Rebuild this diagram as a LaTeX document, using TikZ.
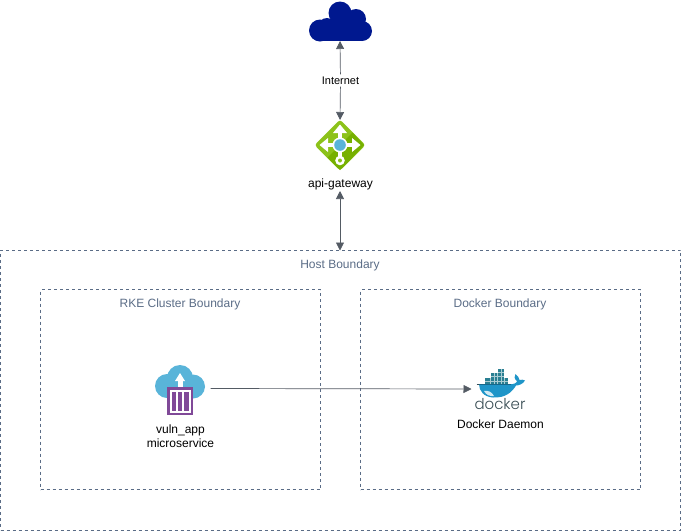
\documentclass[tikz,border=0pt]{standalone}
\usepackage{fontspec}
\setmainfont{Liberation Sans}
\newfontfamily\dockerfont{Poppins Light}
\usetikzlibrary{arrows.meta}
\definecolor{edgegrey}{HTML}{545B64}
\definecolor{boundtext}{HTML}{5A6C86}
\definecolor{boundline}{HTML}{5A6C86}
\definecolor{cloudblue}{HTML}{00188F}
\definecolor{gwgreen}{HTML}{8CC21A}
\definecolor{gwdark}{HTML}{76B000}
\definecolor{gwblue}{HTML}{59B4D9}
\definecolor{svcblue}{HTML}{59B4D9}
\definecolor{svcpurple}{HTML}{804998}
\definecolor{whaleblue}{HTML}{1F95C8}
\definecolor{whaletop}{HTML}{17678A}
\definecolor{boxteal}{HTML}{2A7F92}
\definecolor{dockergrey}{HTML}{394D54}
\tikzset{
  boundary/.style={draw=boundline,dash pattern=on 3pt off 3pt,line width=0.7pt,fill=none,outer sep=0pt,inner sep=0pt,anchor=north west},
  boundlabel/.style={text=boundtext,font=\fontsize{12}{14}\selectfont,inner sep=0pt,anchor=center},
  caption/.style={text=black,font=\fontsize{12}{14}\selectfont,inner sep=0pt,align=center},
  link/.style={draw=edgegrey,line width=0.7pt},
  both/.style={link,{Triangle[length=8pt,width=8pt]}-{Triangle[length=8pt,width=8pt]}},
  ahead/.style={link,-{Triangle[length=8pt,width=8pt]}},
}
\begin{document}
\begin{tikzpicture}[x=1pt,y=-1pt]
\useasboundingbox (0,0) rectangle (681,531);
% boundaries
\node[boundary,minimum width=680pt,minimum height=280pt] (host) at (0.5,250.2) {};
\node[boundary,minimum width=280pt,minimum height=200pt] (rke) at (40.5,289.5) {};
\node[boundary,minimum width=280pt,minimum height=200pt] (dbox) at (360.5,289.5) {};
\node[boundlabel] (hostl) at (340,265.2) {Host Boundary};
\node[boundlabel] (rkel) at (180,304.2) {RKE Cluster Boundary};
\node[boundlabel] (dboxl) at (500,304.2) {Docker Boundary};
% internet cloud
\fill[cloudblue] (320,30.5) circle (11);
\fill[cloudblue] (327,27) circle (9);
\fill[cloudblue] (340,13) circle (11.5);
\fill[cloudblue] (356,19) circle (10);
\fill[cloudblue] (362,31) circle (10);
\fill[cloudblue] (320,25) rectangle (362,41);
\fill[cloudblue] (331,14) rectangle (356,30);
\coordinate (cloudb) at (340,41);
% gateway
\fill[gwgreen,rounded corners=3pt] (340,119.5) -- (365.5,145) -- (340,170.5) -- (314.5,145) -- cycle;
\fill[gwdark] (340,145) -- (352.5,157.5) -- (340,170) -- (327.5,157.5) -- cycle;
\fill[gwdark] (340,145) -- (352.5,132.5) -- (364,145) -- (352.5,157.5) -- cycle;
\fill[white] (338.2,132) rectangle (341.8,158);
\fill[white] (327,143.2) rectangle (353,146.8);
\fill[white] (340,124.5) -- (347,133) -- (333,133) -- cycle;
\fill[white] (319.5,145) -- (328,138) -- (328,152) -- cycle;
\fill[white] (360.5,145) -- (352,138) -- (352,152) -- cycle;
\fill[white] (340,160.5) circle (4.8);
\fill[gwgreen] (340,160.5) circle (2);
\fill[white] (340,145) circle (7.5);
\fill[gwblue] (340,145) circle (5.8);
\coordinate (gwt) at (340,120);
\node[caption] (gwl) at (340.5,184.5) {api-gateway};
% internet label and links
\node[caption,fill=white,inner sep=2pt,font=\fontsize{11}{13}\selectfont] (inet) at (340.5,80.5) {Internet};
\draw[link,{Triangle[length=8pt,width=8pt]}-] (cloudb) -- (inet);
\draw[link,-{Triangle[length=8pt,width=8pt]}] (inet) -- (gwt);
\coordinate (hostt) at (340,250.5);
\coordinate (gwb) at (340,191);
\draw[both] (gwb) -- (hostt);
% microservice icon
\fill[svcblue] (167,386) circle (12);
\fill[svcblue] (180,378) circle (13);
\fill[svcblue] (193,386.5) circle (12);
\fill[svcblue] (167,385) rectangle (193,398);
\fill[white] (177.5,400) rectangle (182.5,380);
\fill[white] (180,373) -- (185,381) -- (175,381) -- cycle;
\fill[svcpurple] (167,387) rectangle (193,415);
\fill[white] (169.5,389.5) rectangle (190.5,412.5);
\fill[svcpurple] (171.5,391.5) rectangle (176,410.5);
\fill[svcpurple] (177.8,391.5) rectangle (182.2,410.5);
\fill[svcpurple] (184,391.5) rectangle (188.5,410.5);
\coordinate (svcr) at (210.5,388.5);
\node[caption] (svcl) at (180.5,436) {vuln\_app\\[-0.5pt]microservice};
% docker whale
\fill[boxteal] (485,378) rectangle (508,384);
\fill[boxteal] (490.5,373) rectangle (497.5,384);
\fill[boxteal] (498,369) rectangle (504,384);
\draw[white!60!boxteal,line width=0.25pt] (490.5,378) -- (490.5,384) (494,373) -- (494,384) (497.5,373) -- (497.5,384) (501,369) -- (501,384) (504.5,378) -- (504.5,384) (485,381) -- (508,381) (490.5,376) -- (504,376) (498,372.5) -- (504,372.5);
\fill[whaleblue] (479,384) -- (511,384) .. controls (513,384.5) and (517,383) .. (517,381)
  .. controls (514,379) and (514,376) .. (515.5,374) .. controls (518,375.5) and (519,378) .. (519.5,380)
  .. controls (521,379.5) and (524,379.5) .. (525,380.5) .. controls (523,384) and (519,385.5) .. (516,385.5)
  .. controls (512,392) and (506,398) .. (493,397.5) .. controls (484,397) and (479,391) .. (479,384) -- cycle;
\draw[whaletop,line width=1pt] (479,384.3) -- (511,384.3);
\fill[white!80!whaleblue] (484,391) .. controls (488,390) and (492,392) .. (494,396) .. controls (490,396.5) and (486,395) .. (484,391) -- cycle;
\draw[dockergrey,line width=0.6pt] (476.5,384.3) -- (479,384.3);
\node[inner sep=0pt,text=dockergrey,font=\dockerfont\fontsize{15}{16}\selectfont] (dockword) at (500,404) {docker};
\coordinate (dockl) at (471.5,389);
\node[caption] (dockc) at (500.5,424.3) {Docker Daemon};
\draw[ahead] (svcr) -- (dockl);
\end{tikzpicture}
\end{document}
